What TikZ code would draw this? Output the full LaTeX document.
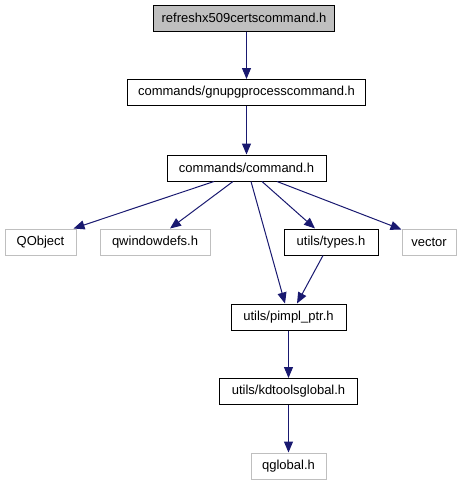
\documentclass[tikz,border=0pt]{standalone}
\usepackage{fontspec}
\setmainfont{Liberation Sans}
\usetikzlibrary{arrows.meta,calc}
\definecolor{edgeblue}{HTML}{191970}
\definecolor{rootgrey}{HTML}{BFBFBF}
\definecolor{extgrey}{HTML}{BFBFBF}
\tikzset{
  box/.style={draw=black, line width=1pt, minimum height=26pt, inner sep=0pt, font=\fontsize{13}{15}\selectfont},
  rootbox/.style={box, fill=rootgrey},
  extbox/.style={box, draw=extgrey},
  edge/.style={draw=edgeblue, line width=1pt, -{Triangle[length=11pt,width=9pt]}},
}
\begin{document}
\begin{tikzpicture}[x=1pt,y=-1pt]
\useasboundingbox (0,0) rectangle (466,485);
\node[rootbox, minimum width=181pt] (root) at (244,18) {refreshx509certscommand.h};
\node[box, minimum width=238pt] (gnupg) at (246.5,92.5) {commands/gnupgprocesscommand.h};
\node[box, minimum width=159pt] (cmd) at (246.5,168) {commands/command.h};
\node[extbox, minimum width=71pt] (qobj) at (40.5,242) {QObject};
\node[extbox, minimum width=110pt] (qwin) at (155,242) {qwindowdefs.h};
\node[box, minimum width=94pt] (types) at (331,242) {utils/types.h};
\node[extbox, minimum width=54pt] (vec) at (429,242) {vector};
\node[box, minimum width=115pt] (pimpl) at (288.5,317) {utils/pimpl\_ptr.h};
\node[box, minimum width=138pt] (kdt) at (288.5,391.5) {utils/kdtoolsglobal.h};
\node[extbox, minimum width=75pt] (qglob) at (288.5,466) {qglobal.h};

\draw[edge] ([xshift=2.5pt]root.south) -- (gnupg.north);
\draw[edge] (gnupg.south) -- (cmd.north);
\draw[edge] ([xshift=-32.5pt]cmd.south) -- ([xshift=-3pt]qobj.north east);
\draw[edge] ([xshift=-13.5pt]cmd.south) -- ([xshift=15pt]qwin.north);
\draw[edge] ([xshift=4.5pt]cmd.south) -- ([xshift=-3.5pt]pimpl.north);
\draw[edge] ([xshift=15.5pt]cmd.south) -- ([xshift=-16pt]types.north);
\draw[edge] ([xshift=30.5pt]cmd.south) -- ([yshift=-1pt]vec.north west);
\draw[edge] ([xshift=-8pt]types.south) -- ([xshift=8.5pt]pimpl.north);
\draw[edge] (pimpl.south) -- (kdt.north);
\draw[edge] (kdt.south) -- (qglob.north);
\end{tikzpicture}
\end{document}
